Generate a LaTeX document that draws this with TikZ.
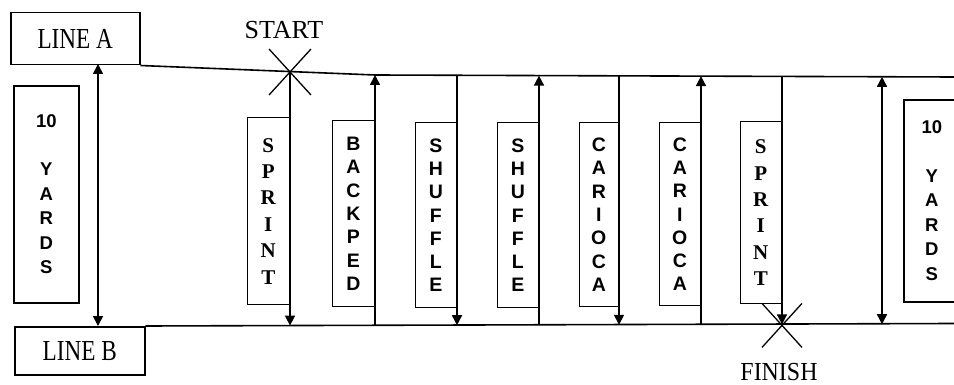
\documentclass[tikz,border=0pt]{standalone}
\usepackage{fontspec}
\setmainfont{Liberation Serif}
\newfontfamily\boxsans{Liberation Sans}
\usetikzlibrary{arrows.meta,calc}
\begin{document}
\begin{tikzpicture}[x=1pt,y=-1pt,line width=1.6pt,
  arr/.style={-{Triangle[length=10pt,width=10pt]}},
  darr/.style={{Triangle[length=10pt,width=10pt]}-{Triangle[length=10pt,width=10pt]}},
  drill/.style={draw,line width=1.4pt,minimum width=42pt,minimum height=186pt,inner sep=0pt,anchor=north east,align=center},
  sansl/.style={font=\boxsans\bfseries\fontsize{19.5}{23.3}\selectfont},
  serifl/.style={font=\bfseries\fontsize{21}{26.4}\selectfont},
  linebox/.style={draw,line width=1.5pt,inner sep=0pt,anchor=north west,font=\fontsize{29}{30}\selectfont},
  yards/.style={draw,line width=1.6pt,inner sep=0pt,anchor=north west,align=center,font=\boxsans\bfseries\fontsize{18.5}{24.5}\selectfont},
  bigtext/.style={font=\fontsize{26}{30}\selectfont}
]
\useasboundingbox (0,0) rectangle (954,385);
\clip (0,0) rectangle (954,385);

% line boxes
\node[linebox,minimum width=129pt,minimum height=52pt] (lineA) at (10,12) {\scalebox{0.8}[1]{LINE A}};
\node[linebox,minimum width=130pt,minimum height=48pt] (lineB) at (14,326) {\scalebox{0.8}[1]{LINE B}};

% line A and line B
\coordinate (am) at (375,75);
\coordinate (ae) at (954,77);
\coordinate (be) at (954,323.5);
\draw (lineA.south east) -- (am) -- (ae);
\draw (lineB.north east) -- (be);

% points on lines
\coordinate (a1) at (290,72);   \coordinate (b1) at (290,325.6);
\coordinate (a2) at (375,75);   \coordinate (b2) at (375,325.4);
\coordinate (a3) at (457,75.3); \coordinate (b3) at (457,325.2);
\coordinate (a4) at (539,75.6); \coordinate (b4) at (539,325);
\coordinate (a5) at (619,75.8); \coordinate (b5) at (619,324.8);
\coordinate (a6) at (701,76.1); \coordinate (b6) at (701,324.6);
\coordinate (a7) at (782,76.4); \coordinate (b7) at (782,324.4);
\coordinate (a8) at (882,76.8); \coordinate (b8) at (882,324.2);
\coordinate (l1) at (98,64);    \coordinate (l2) at (98,326);

% 10 yards boxes
\node[yards,minimum width=65pt,minimum height=217pt] (yl) at (13,85) {10\\[24pt]Y\\A\\R\\D\\S};
\node[yards,minimum width=56pt,minimum height=202pt] (yr) at (903,99) {10\\[24pt]Y\\A\\R\\D\\S};

% drill boxes
\node[drill,serifl,minimum height=187pt] (d1) at (290,117) {S\\P\\R\\I\\N\\T};
\node[drill,sansl] (d2) at (375,120) {B\\A\\C\\K\\P\\E\\D};
\node[drill,sansl,minimum width=41pt,minimum height=185pt] (d3) at (457,122) {S\\H\\U\\F\\F\\L\\E};
\node[drill,sansl,minimum width=41pt,minimum height=185pt] (d4) at (539,122) {S\\H\\U\\F\\F\\L\\E};
\node[drill,sansl,minimum width=39pt,minimum height=184pt] (d5) at (619,122) {C\\A\\R\\I\\O\\C\\A};
\node[drill,sansl,minimum width=41pt,minimum height=183pt] (d6) at (701,122) {C\\A\\R\\I\\O\\C\\A};
\node[drill,serifl,minimum width=41pt,minimum height=182pt] (d7) at (782,121) {S\\P\\R\\I\\N\\T};

% arrows
\draw[darr] (l1) -- (l2);
\draw[arr] (a1) -- (b1);
\draw[arr] (b2) -- (a2);
\draw[arr] (a3) -- (b3);
\draw[arr] (b4) -- (a4);
\draw[arr] (a5) -- (b5);
\draw[arr] (b6) -- (a6);
\draw[arr] (a7) -- (b7);
\draw[darr] (a8) -- (b8);

% start / finish crosses
\draw[line width=1.3pt] ($(a1)+(-21,-23)$) -- ($(a1)+(21,23)$);
\draw[line width=1.3pt] ($(a1)+(21,-23)$) -- ($(a1)+(-21,23)$);
\draw[line width=1.3pt] ($(b7)+(-20,-21)$) -- ($(b7)+(20,23)$);
\draw[line width=1.3pt] ($(b7)+(20,-21)$) -- ($(b7)+(-20,23)$);
\node[bigtext] (start) at (284,30) {START};
\node[bigtext] (finish) at (779,372) {\scalebox{0.92}[1]{FINISH}};
\end{tikzpicture}
\end{document}
